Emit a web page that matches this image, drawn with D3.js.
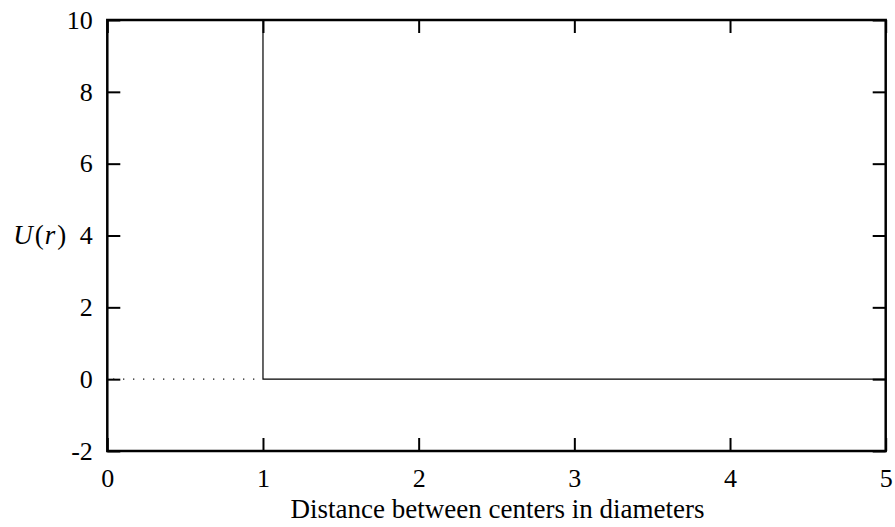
<!DOCTYPE html>
<html>
<head>
<meta charset="utf-8">
<script src="https://cdn.jsdelivr.net/npm/d3@7"></script>
<style>
  body { margin: 0; background: #fff; }
  svg text { font-family: "Liberation Serif", "Times New Roman", serif !important; fill: #000; }
</style>
</head>
<body>
<div id="chart"></div>
<script>
// potential: hard wall at r = 1, zero outside
var xTicks = [0, 1, 2, 3, 4, 5];
var yTicks = [-2, 0, 2, 4, 6, 8, 10];
var wallLine = [[1, 10], [1, 0], [5, 0]];
var insideLine = [[0, 0], [1, 0]];

var margin = {top: 20, right: 9.3, bottom: 76, left: 107.3};
var width = 895 - margin.left - margin.right;
var height = 527 - margin.top - margin.bottom;

var svg = d3.select("#chart").append("svg")
    .attr("width", 895)
    .attr("height", 527)
    .append("g")
    .attr("transform", "translate(" + margin.left + "," + margin.top + ")");

var xScale = d3.scaleLinear().domain([0, 5]).range([0, width]);
var yScale = d3.scaleLinear().domain([-2, 10]).range([height, 0]);

var tickLen = 13;
var fontSize = 26;
var fmt = function(d) { return String(d); };

// axes with inward ticks on all four sides
function styleAxis(g) {
    g.attr("font-family", "Liberation Serif").attr("font-size", fontSize);
    g.select(".domain").remove();
    g.selectAll(".tick line").attr("stroke", "#000").attr("stroke-width", 2);
    g.selectAll(".tick text").attr("fill", "#000");
}

svg.append("g")
    .attr("transform", "translate(0," + height + ")")
    .call(d3.axisBottom(xScale).tickValues(xTicks).tickFormat(fmt).tickSizeInner(-tickLen).tickSizeOuter(0).tickPadding(17.5))
    .call(styleAxis);

svg.append("g")
    .call(d3.axisTop(xScale).tickValues(xTicks).tickSizeInner(-tickLen).tickSizeOuter(0).tickFormat(""))
    .call(styleAxis);

svg.append("g")
    .call(d3.axisLeft(yScale).tickValues(yTicks).tickFormat(fmt).tickSizeInner(-tickLen).tickSizeOuter(0).tickPadding(14.5))
    .call(styleAxis);

svg.append("g")
    .attr("transform", "translate(" + width + ",0)")
    .call(d3.axisRight(yScale).tickValues(yTicks).tickSizeInner(-tickLen).tickSizeOuter(0).tickFormat(""))
    .call(styleAxis);

var line = d3.line()
    .x(function(d) { return xScale(d[0]); })
    .y(function(d) { return yScale(d[1]); });

svg.append("path")
    .datum(insideLine)
    .attr("fill", "none")
    .attr("stroke", "#000")
    .attr("stroke-width", 1.2)
    .attr("stroke-dasharray", "1.2,8.8")
    .attr("stroke-dashoffset", 4.2)
    .attr("d", line);

svg.append("path")
    .datum(wallLine)
    .attr("fill", "none")
    .attr("stroke", "#000")
    .attr("stroke-width", 1.2)
    .attr("d", line);

// frame
svg.append("rect")
    .attr("x", 0).attr("y", 0)
    .attr("width", width).attr("height", height)
    .attr("fill", "none")
    .attr("stroke", "#000")
    .attr("stroke-width", 2.5);

// text label for the x axis
svg.append("text")
    .attr("x", width / 2 + 1)
    .attr("y", height + 67)
    .style("text-anchor", "middle")
    .style("font-size", "27px")
    .text("Distance between centers in diameters");

// text label for the y axis: U(r)
var yLabel = svg.append("text")
    .attr("x", -94)
    .attr("y", yScale(4))
    .attr("dy", "0.32em")
    .style("font-size", "27px");
yLabel.append("tspan").style("font-style", "italic").text("U");
yLabel.append("tspan").attr("dx", 2).text("(");
yLabel.append("tspan").attr("dx", 1).style("font-style", "italic").text("r");
yLabel.append("tspan").attr("dx", 2).text(")");
</script>
</body>
</html>
